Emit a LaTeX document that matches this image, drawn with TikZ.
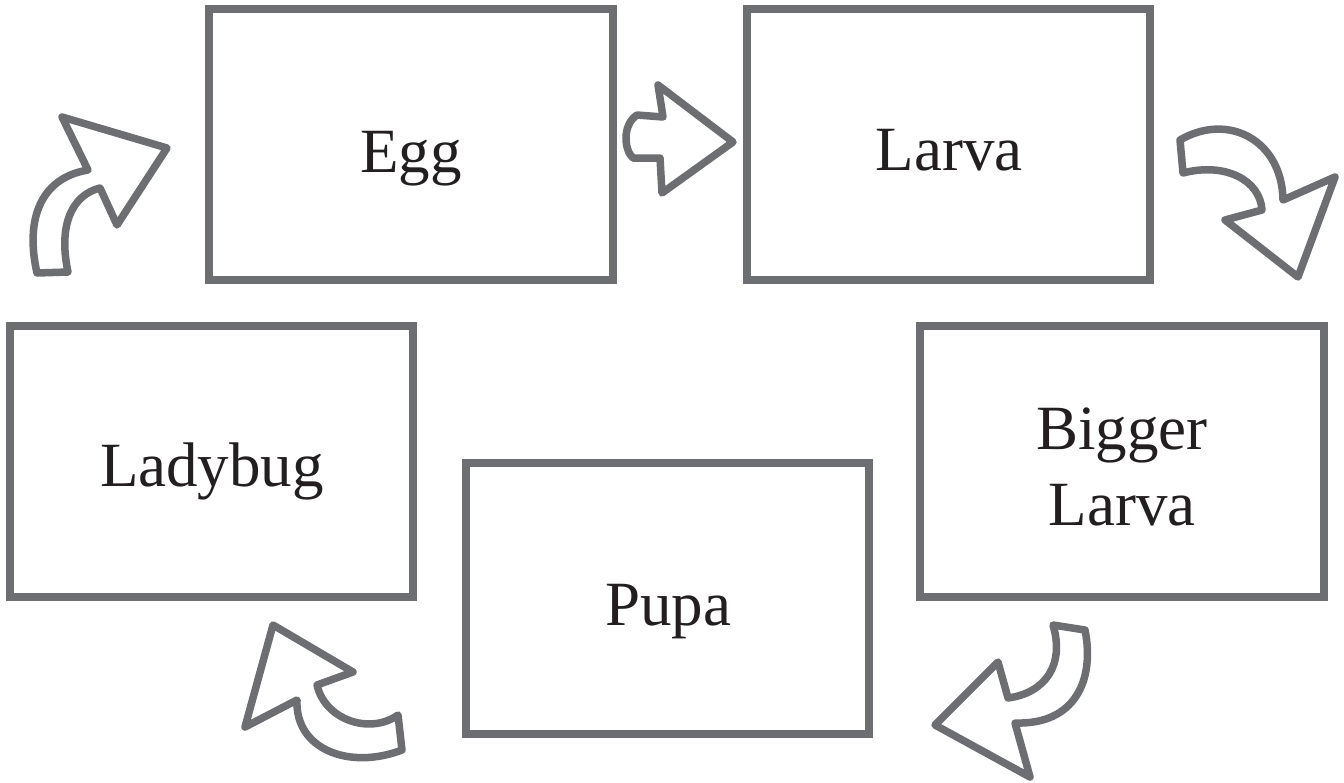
\documentclass[tikz,border=0pt]{standalone}
\usepackage{fontspec}
\setmainfont{Liberation Serif}
\definecolor{boxgray}{HTML}{6D6E71}
\definecolor{txt}{HTML}{231F20}
\begin{document}
\begin{tikzpicture}[x=1pt,y=-1pt,
  stage/.style={draw=boxgray,line width=8pt,minimum width=403.5pt,minimum height=271pt,inner sep=0pt,fill=white},
  lbl/.style={anchor=base,text=txt,font=\fontsize{63}{76}\selectfont,inner sep=0pt,align=center},
  blockarrow/.style={draw=boxgray,line width=7.5pt,line join=round,line cap=round,fill=white}]
\useasboundingbox (0,0) rectangle (1344,782);
% boxes
\node[stage] (egg) at (410.75,144.5) {};
\node[stage] (larva) at (948.5,144.5) {};
\node[stage] (ladybug) at (211.5,461.5) {};
\node[stage] (bigger) at (1122,461.5) {};
\node[stage] (pupa) at (667.5,598.5) {};
% labels
\node[lbl] (teg) at (411,172) {Egg};
\node[lbl] (tla) at (949,170) {Larva};
\node[lbl] (tlb) at (212,486) {Ladybug};
\node[lbl] (tbl) at (1122,525) {Bigger\\Larva};
\node[lbl] (tpu) at (668,625) {Pupa};
% arrows
% Ladybug -> Egg
\draw[blockarrow] (37,273) -- (68,272)
  .. controls (58,225) and (72,195) .. (100,188)
  -- (117,225) -- (167,148) -- (62,117) -- (88,170)
  .. controls (40,178) and (25,220) .. (37,273) -- cycle;
% Egg -> Larva
\draw[blockarrow] (733,142) -- (658,85) -- (663,117) -- (637,115)
  .. controls (622,125) and (624,150) .. (633,158)
  -- (660,158) -- (662,193) -- cycle;
% Larva -> Bigger Larva
\draw[blockarrow] (1180,140) -- (1183,173)
  .. controls (1225,162) and (1260,180) .. (1262,210)
  -- (1225,220) -- (1298,277) -- (1335,177) -- (1283,200)
  .. controls (1282,140) and (1228,112) .. (1180,140) -- cycle;
% Bigger Larva -> Pupa
\draw[blockarrow] (1053,625) -- (1085,630)
  .. controls (1095,680) and (1075,725) .. (1015,723)
  -- (1030,777) -- (935,725) -- (998,662) -- (1008,698)
  .. controls (1045,693) and (1065,665) .. (1053,625) -- cycle;
% Pupa -> Ladybug
\draw[blockarrow] (245,727) -- (273,625) -- (353,672) -- (317,685)
  .. controls (325,720) and (370,735) .. (398,715)
  -- (402,750)
  .. controls (350,770) and (295,750) .. (297,700) -- cycle;
\end{tikzpicture}
\end{document}
